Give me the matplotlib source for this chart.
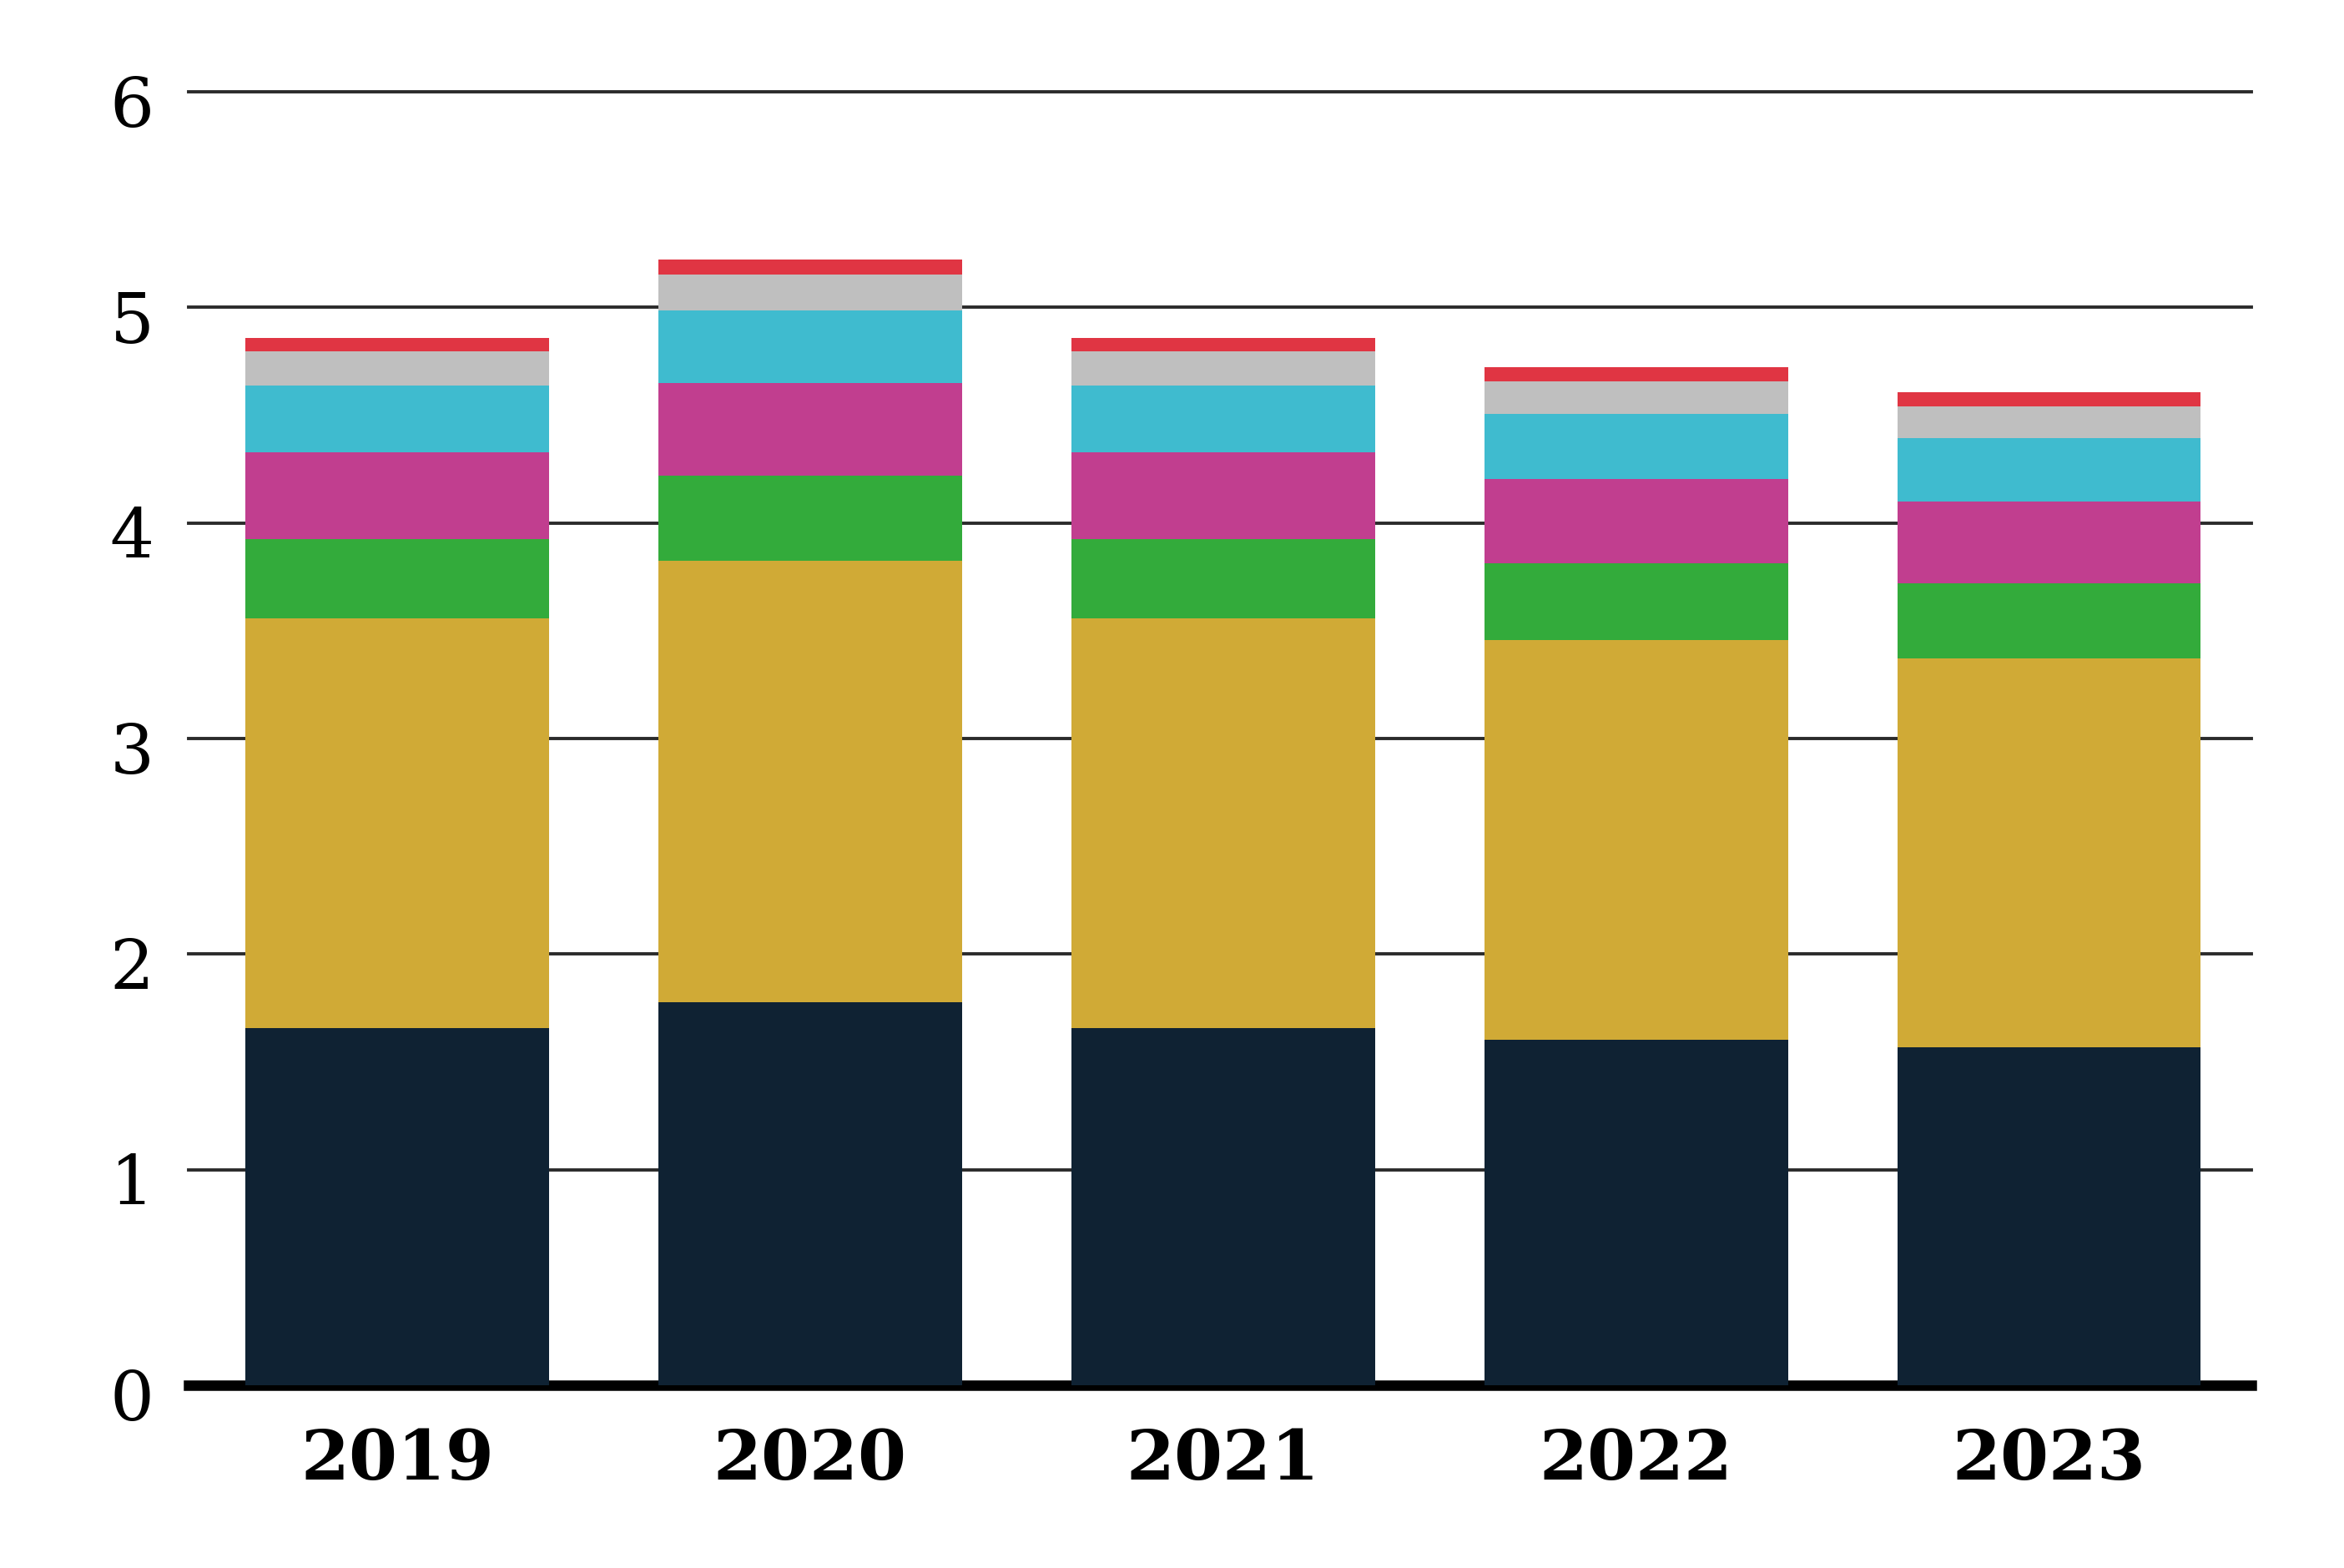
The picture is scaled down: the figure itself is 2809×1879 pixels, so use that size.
import numpy as np
import matplotlib.pyplot as plt
import matplotlib.transforms as mtransforms

# Datos (apilados de abajo hacia arriba)
years = ["2019", "2020", "2021", "2022", "2023"]
navy = [1.655, 1.778, 1.655, 1.604, 1.568]
gold = [1.903, 2.048, 1.903, 1.852, 1.804]
green = [0.365, 0.394, 0.365, 0.356, 0.347]
magenta = [0.403, 0.430, 0.403, 0.390, 0.381]
cyan = [0.311, 0.334, 0.311, 0.302, 0.294]
gray = [0.157, 0.168, 0.157, 0.153, 0.148]
red = [0.064, 0.070, 0.064, 0.066, 0.065]

series = [navy, gold, green, magenta, cyan, gray, red]
colors = ["#0f2233", "#d0aa36", "#33ab3b", "#c13e8f", "#3fbbcf", "#bfbfbf", "#e03543"]

fig = plt.figure(figsize=(14.045, 9.395), dpi=200)
ax = fig.add_axes([0.0805, 0.1166, 0.88, 0.8249])

x = np.arange(len(years))
bottom = np.zeros(len(years))
for vals, col in zip(series, colors):
    ax.bar(x, vals, bottom=bottom, width=0.735, color=col, linewidth=0, zorder=3)
    bottom += np.array(vals)

ax.set_xlim(-0.505, 4.49)
ax.set_ylim(0, 6)
ax.set_yticks(range(0, 7))
ax.yaxis.grid(True, color="#2b2b2b", linewidth=1.4, zorder=1)
ax.set_axisbelow(True)
for gl in ax.get_ygridlines():
    gl.set_clip_on(False)

for s in ["top", "right", "left"]:
    ax.spines[s].set_visible(False)
ax.spines["bottom"].set_linewidth(4.5)
ax.spines["bottom"].set_color("black")
ax.spines["bottom"].set_zorder(2)

ax.set_xticks(x)
ax.set_xticklabels(years, fontsize=30, fontweight="bold", family="DejaVu Serif")
ax.set_yticklabels([str(v) for v in range(0, 7)], fontsize=30, family="DejaVu Serif")
ax.tick_params(axis="both", length=0)
ax.tick_params(axis="y", pad=15)
ax.tick_params(axis="x", pad=18)

# bajar un poco las etiquetas del eje y
shift = mtransforms.ScaledTranslation(0, -4 / 72, fig.dpi_scale_trans)
for lbl in ax.get_yticklabels():
    lbl.set_transform(lbl.get_transform() + shift)

fig.savefig("out.png", dpi=200)
